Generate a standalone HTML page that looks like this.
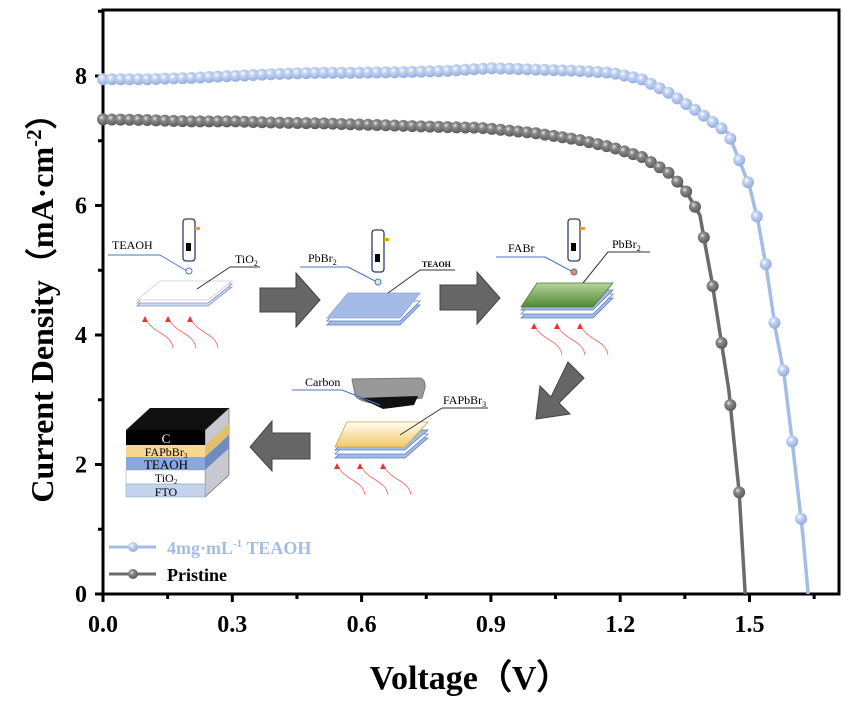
<!DOCTYPE html>
<html><head><meta charset="utf-8"><style>
html,body{margin:0;padding:0;background:#fff;}
svg{display:block;font-family:"Liberation Serif",serif;}
</style></head><body>
<svg id="chart" width="850" height="704" viewBox="0 0 850 704">
<defs>
<radialGradient id="gb" cx="0.38" cy="0.35" r="0.7"><stop offset="0" stop-color="#ffffff"/><stop offset="0.3" stop-color="#c5d5f2"/><stop offset="1" stop-color="#8fa9dc"/></radialGradient>
<radialGradient id="gg" cx="0.38" cy="0.35" r="0.7"><stop offset="0" stop-color="#e8e8e8"/><stop offset="0.3" stop-color="#8a8a8a"/><stop offset="1" stop-color="#555"/></radialGradient>
<linearGradient id="yel" x1="0" y1="0" x2="0" y2="1"><stop offset="0" stop-color="#fffdf5"/><stop offset="1" stop-color="#f3c865"/></linearGradient>
<linearGradient id="grn" x1="0" y1="0" x2="0" y2="1"><stop offset="0" stop-color="#b7d39c"/><stop offset="1" stop-color="#4f8a33"/></linearGradient>
</defs>
<g id="axes"></g>
<g id="inset" font-size="11">
  <g>
    <polygon points="137,306 208,306 232,287 160,287" fill="#cfdcf0" stroke="#7f96c4" stroke-width="0.8"/>
    <polygon points="137,303 208,303 232,284 160,284" fill="#fff" stroke="#7f96c4" stroke-width="0.8"/>
    <polygon points="137,300 208,300 232,281 160,281" fill="#fff" stroke="#ccc" stroke-width="0.8"/>
    <line x1="108" y1="255" x2="160" y2="255" stroke="#4a74c6"/><line x1="160" y1="255" x2="187" y2="271" stroke="#4a74c6"/>
    <text x="112" y="249" font-size="12">TEAOH</text>
    <line x1="197" y1="289" x2="230" y2="267" stroke="#333"/><line x1="230" y1="267" x2="260" y2="267" stroke="#333"/>
    <text x="235" y="263" font-size="12">TiO<tspan font-size="8" dy="3">2</tspan></text>
    <rect x="183" y="219" width="12" height="42" rx="3" fill="#fff" stroke="#2c3e6b" stroke-width="1.3"/><rect x="186" y="243" width="5" height="8" fill="#000"/><rect x="195" y="227" width="5" height="3" fill="#e0a800"/>
    <circle cx="189" cy="271" r="3" fill="#fff" stroke="#4a74c6"/>
  </g>
  <g>
    <polygon points="327,325 400,325 420,305 347,305" fill="#a3bbe6" stroke="#5f7fbf" stroke-width="0.8"/>
    <polygon points="327,321 400,321 420,301 347,301" fill="#fff" stroke="#5f7fbf" stroke-width="0.8"/>
    <polygon points="327,318 400,318 420,293 348,293" fill="#a3bbe6" stroke="#8aa3d6" stroke-width="0.8"/>
    <line x1="300" y1="267" x2="348" y2="267" stroke="#4a74c6"/><line x1="348" y1="267" x2="377" y2="282" stroke="#4a74c6"/>
    <text x="308" y="262" font-size="12">PbBr<tspan font-size="8" dy="3">2</tspan></text>
    <line x1="388" y1="293" x2="420" y2="270" stroke="#333"/><line x1="420" y1="270" x2="455" y2="270" stroke="#333"/>
    <text x="422" y="267" font-size="8" font-weight="bold">TEAOH</text>
    <rect x="372" y="230" width="12" height="42" rx="3" fill="#fff" stroke="#2c3e6b" stroke-width="1.3"/><rect x="375" y="254" width="5" height="8" fill="#000"/><rect x="384" y="238" width="5" height="3" fill="#e0a800"/>
    <circle cx="378" cy="282" r="3" fill="#d8f0d8" stroke="#4a74c6"/>
  </g>
  <g>
    <polygon points="521,318 593,318 613,298 541,298" fill="#a3bbe6" stroke="#5f7fbf" stroke-width="0.8"/>
    <polygon points="521,314 593,314 613,294 541,294" fill="#fff" stroke="#5f7fbf" stroke-width="0.8"/>
    <polygon points="521,310 593,310 613,290 541,290" fill="#a3bbe6" stroke="#5f7fbf" stroke-width="0.8"/>
    <polygon points="521,307 593,307 613,283 537,283" fill="url(#grn)" stroke="#4f7a33" stroke-width="0.8"/>
    <line x1="496" y1="257" x2="545" y2="257" stroke="#4a74c6"/><line x1="545" y1="257" x2="573" y2="272" stroke="#4a74c6"/>
    <text x="508" y="252" font-size="12">FABr</text>
    <line x1="583" y1="283" x2="608" y2="252" stroke="#333"/><line x1="608" y1="252" x2="650" y2="252" stroke="#333"/>
    <text x="612" y="248" font-size="12">PbBr<tspan font-size="8" dy="3">2</tspan></text>
    <rect x="568" y="219" width="12" height="42" rx="3" fill="#fff" stroke="#2c3e6b" stroke-width="1.3"/><rect x="571" y="243" width="5" height="8" fill="#000"/><rect x="580" y="227" width="5" height="3" fill="#e0a800"/>
    <circle cx="574" cy="272" r="3" fill="#f08a50" stroke="#4a74c6"/>
  </g>
  <g>
    <polygon points="335,458 405,458 428,438 357,438" fill="#a3bbe6" stroke="#5f7fbf" stroke-width="0.8"/>
    <polygon points="335,454 405,454 428,434 357,434" fill="#fff" stroke="#5f7fbf" stroke-width="0.8"/>
    <polygon points="335,450 405,450 428,430 357,430" fill="#a3bbe6" stroke="#5f7fbf" stroke-width="0.8"/>
    <polygon points="335,447 405,447 428,422 347,422" fill="url(#yel)" stroke="#c9a24a" stroke-width="0.8"/>
    <path d="M352,379 L419,378 Q426,379 425,388 L422,398 L380,404 Q358,402 355,395 Z" fill="#999" stroke="#777"/>
    <path d="M360,398 L418,396 L414,405 L383,409 Z" fill="#111"/>
    <line x1="292" y1="390" x2="342" y2="390" stroke="#4a74c6"/><line x1="342" y1="390" x2="380" y2="405" stroke="#4a74c6"/>
    <text x="305" y="386" font-size="12">Carbon</text>
    <line x1="400" y1="435" x2="442" y2="408" stroke="#333"/><line x1="442" y1="408" x2="488" y2="408" stroke="#333"/>
    <text x="443" y="404" font-size="12">FAPbBr<tspan font-size="8" dy="3">3</tspan></text>
  </g>
  <g text-anchor="middle">
    <polygon points="205,430 229,408 229,475 205,497" fill="#c8c8d0" stroke="#555" stroke-width="0.6"/>
    <polygon points="205,445 229,423 229,435 205,457" fill="#e0c070"/>
    <polygon points="205,457 229,435 229,448 205,470" fill="#6f8bc4"/>
    <polygon points="126,430 205,430 229,408 150,408" fill="#111"/>
    <rect x="126" y="430" width="79" height="15" fill="#000"/>
    <rect x="126" y="445" width="79" height="12" fill="#f7d890"/>
    <rect x="126" y="457" width="79" height="13" fill="#8ba8de"/>
    <rect x="126" y="470" width="79" height="14" fill="#fff" stroke="#999" stroke-width="0.5"/>
    <rect x="126" y="484" width="79" height="13" fill="#c3d3ee" stroke="#8aa" stroke-width="0.5"/>
    <text x="166" y="443" fill="#fff" font-size="13">C</text>
    <text x="166" y="456" font-size="12">FAPbBr<tspan font-size="7" dy="2">3</tspan></text>
    <text x="166" y="469" font-size="13">TEAOH</text>
    <text x="166" y="482" font-size="12">TiO<tspan font-size="7" dy="2">2</tspan></text>
    <text x="166" y="496" font-size="12">FTO</text>
  </g>
  <g fill="#666" stroke="#444" stroke-width="1">
    <polygon points="260,288 296,288 296,273 320,300 296,327 296,312 260,312"/>
    <polygon points="440,285 477,285 477,272 500,298 477,324 477,310 440,310"/>
    <polygon points="568,362 584,378 559,403 570,414 536,419 540,386 551,397"/>
    <polygon points="310,433 272,433 272,421 250,447 272,471 272,459 310,459"/>
  </g>
  <g fill="none" stroke="#f06060" stroke-width="0.8" id="heat"></g>
</g>
<g id="series"></g>
<g id="legend">
  <g>
    <line x1="109" y1="547" x2="156" y2="547" stroke="#a4bde8" stroke-width="3"/>
    <circle cx="133" cy="547" r="5" fill="url(#gb)"/>
    <text x="167" y="554" font-size="18" font-weight="bold" fill="#a4bde8">4mg·mL<tspan font-size="11" dy="-7">-1</tspan><tspan dy="7"> TEAOH</tspan></text>
  </g>
  <g>
    <line x1="109" y1="574" x2="156" y2="574" stroke="#6b6b6b" stroke-width="3"/>
    <circle cx="133" cy="574" r="5" fill="url(#gg)"/>
    <text x="167" y="581" font-size="18" font-weight="bold" fill="#000">Pristine</text>
  </g>
</g>
<text x="470" y="689" text-anchor="middle" font-size="34" font-weight="bold">Voltage（V）</text>
<text transform="translate(53,300) rotate(-90)" text-anchor="middle" font-size="32" font-weight="bold">Current Density（mA·cm<tspan font-size="21" dy="-12">-2</tspan><tspan dy="12">）</tspan></text>
</svg>
<script>
const xTicks=[0,0.3,0.6,0.9,1.2,1.5];
const xTickLabels=["0.0","0.3","0.6","0.9","1.2","1.5"];
const yTicks=[0,2,4,6,8];
const yTickLabels=["0","2","4","6","8"];
const vBlue=[0,0.1,0.2,0.3,0.4,0.5,0.6,0.7,0.8,0.9,1.0,1.1,1.18,1.25,1.31,1.385,1.45,1.47,1.5,1.52,1.54,1.56,1.58,1.60,1.624,1.636];
const jBlue=[7.95,7.95,7.97,8.0,8.03,8.05,8.05,8.06,8.08,8.12,8.1,8.08,8.05,7.95,7.75,7.43,7.12,6.8,6.3,5.75,5.0,4.1,3.4,2.3,0.9,0];
const vGray=[0,0.1,0.2,0.3,0.4,0.5,0.6,0.7,0.8,0.875,1.0,1.1,1.18,1.25,1.31,1.35,1.385,1.395,1.413,1.452,1.476,1.49];
const jGray=[7.33,7.32,7.3,7.3,7.28,7.27,7.25,7.23,7.21,7.2,7.12,7.02,6.9,6.75,6.52,6.25,5.85,5.47,4.82,3.15,1.57,0];
const NS='http://www.w3.org/2000/svg';
const X0=103,X1=839,Y0=594,Y1=10;
const xs=v=>X0+v*431;
const ys=j=>Y0-j*64.75;
function mk(tag,attrs,parent){const e=document.createElementNS(NS,tag);for(const k in attrs)e.setAttribute(k,attrs[k]);parent.appendChild(e);return e;}
const axes=document.getElementById('axes');
const frame=mk('rect',{x:X0,y:Y1,width:X1-X0,height:Y0-Y1,fill:'none',stroke:'#000','stroke-width':3},axes);


for(let i=0;i<xTicks.length;i++){
  const x=xs(xTicks[i]);
  const t=mk('line',{x1:x,y1:Y0,x2:x,y2:Y0+8,stroke:'#000','stroke-width':3},axes);
  
  
  const m=mk('line',{x1:xs(xTicks[i]+0.15),y1:Y0,x2:xs(xTicks[i]+0.15),y2:Y0+5,stroke:'#000','stroke-width':3},axes);
  
  
  const l=mk('text',{x:x,y:Y0+38,'text-anchor':'middle','font-size':24,'font-weight':'bold'},axes);
  l.textContent=xTickLabels[i];
  
  
}
for(let i=0;i<yTicks.length;i++){
  const y=ys(yTicks[i]);
  const t=mk('line',{x1:X0-8,y1:y,x2:X0,y2:y,stroke:'#000','stroke-width':3},axes);
  
  
  const m=mk('line',{x1:X0-5,y1:ys(yTicks[i]+1),x2:X0,y2:ys(yTicks[i]+1),stroke:'#000','stroke-width':3},axes);
  
  
  const l=mk('text',{x:X0-16,y:y+8,'text-anchor':'end','font-size':24,'font-weight':'bold'},axes);
  l.textContent=yTickLabels[i];
  
  
}
const heat=document.getElementById('heat');
[[145,318],[168,318],[190,318],[337,465],[360,465],[383,465],[534,325],[557,325],[580,325]].forEach(p=>{
  const h=mk('path',{d:`M${p[0]+28},${p[1]+30} C${p[0]+26},${p[1]+15} ${p[0]+8},${p[1]+16} ${p[0]},${p[1]}`},heat);
  
  
  const a=mk('polygon',{points:`${p[0]},${p[1]-2} ${p[0]-3},${p[1]+4} ${p[0]+3},${p[1]+4}`,fill:'#f03030',stroke:'none'},heat);
  
  
});
function interp(V,J,v){for(let i=1;i<V.length;i++){if(v<=V[i]){const t=(v-V[i-1])/(V[i]-V[i-1]);return J[i-1]+t*(J[i]-J[i-1]);}}return J[J.length-1];}
function series(V,J,color,grad,name){
  const g=mk('g',{},document.getElementById('series'));
  
  
  const p=mk('polyline',{points:V.map((v,i)=>xs(v)+','+ys(J[i])).join(' '),fill:'none',stroke:color,'stroke-width':3.5},g);
  
  
  const vmax=V[V.length-1];
  for(let v=0;v<=vmax-0.005;v+=0.0205){
    const c=mk('circle',{cx:xs(v),cy:ys(interp(V,J,v)),r:6,fill:`url(#${grad})`},g);
    
    
  }
}
series(vGray,jGray,'#6b6b6b','gg','series-pristine');
series(vBlue,jBlue,'#a4bde8','gb','series-teaoh');
</script>
</body></html>
